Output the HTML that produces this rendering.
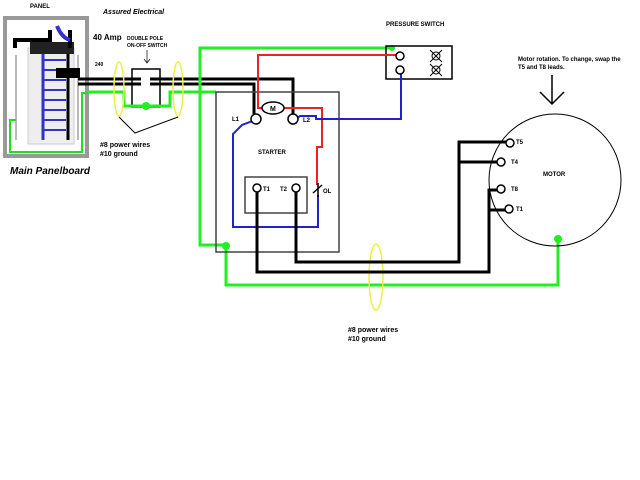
<!DOCTYPE html>
<html><head><style>body{margin:0;background:#fff}svg{display:block}text{font-family:"Liberation Sans",sans-serif;font-weight:bold}</style></head><body>
<svg width="640" height="480" viewBox="0 0 640 480">
<rect x="3" y="16" width="86" height="142" fill="#999"/>
<rect x="7" y="20" width="78" height="134" fill="#fff"/>
<rect x="28" y="48" width="46" height="96" fill="#eee" stroke="#ccc"/>
<g stroke="#bbb" stroke-width="2"><line x1="16" y1="55" x2="16" y2="140"/><line x1="78" y1="55" x2="78" y2="140"/></g>
<line x1="43" y1="52" x2="43" y2="140" stroke="#33c" stroke-width="3"/>
<g stroke="#33c" stroke-width="2"><line x1="43" y1="60" x2="66" y2="60"/><line x1="43" y1="70" x2="66" y2="70"/><line x1="43" y1="80" x2="66" y2="80"/><line x1="43" y1="90" x2="66" y2="90"/><line x1="43" y1="100" x2="66" y2="100"/><line x1="43" y1="110" x2="66" y2="110"/><line x1="43" y1="120" x2="66" y2="120"/><line x1="43" y1="130" x2="66" y2="130"/></g>
<line x1="68" y1="50" x2="68" y2="140" stroke="#000" stroke-width="3"/>
<rect x="30" y="42" width="44" height="12" fill="#222"/>
<path d="M15 48 V40 H50 V30 M70 48 V30" stroke="#000" stroke-width="4" fill="none"/>
<path d="M57 26 Q62 38 70 40" stroke="#33c" stroke-width="4" fill="none"/>
<rect x="56" y="68" width="24" height="10" fill="#000"/>
<path d="M10 140 V120 H16 M10 140 V152 H82 V93 H88" stroke="#2d2" stroke-width="2" fill="none"/>
<text x="30" y="8" font-size="6">PANEL</text>
<text x="103" y="14" font-size="7" font-style="italic" font-weight="normal">Assured Electrical</text>
<text x="10" y="174" font-size="10" font-style="italic" font-weight="normal">Main Panelboard</text>
<text x="93" y="40" font-size="8">40 Amp</text>
<text x="95" y="66" font-size="5">240</text>
<text x="127" y="40" font-size="5">DOUBLE POLE</text>
<text x="127" y="47" font-size="5">ON-OFF SWITCH</text>
<path d="M147 50 V62 M144 59 L147 63 L150 59" stroke="#000" fill="none" stroke-width="0.7"/>
<path d="M78 79 H293 V114" stroke="#000" stroke-width="3" fill="none"/>
<path d="M78 84 H254 V114" stroke="#000" stroke-width="3" fill="none"/>
<rect x="132" y="69" width="28" height="38" fill="none" stroke="#000" stroke-width="1.5"/>
<rect x="141" y="76" width="9" height="12" fill="#fff"/>
<path d="M88 92 H124 V106 H170 V92 H216" stroke="#2e2" stroke-width="3" fill="none"/>
<circle cx="146" cy="106" r="4" fill="#2e2"/>
<path d="M392 48 H200 V245 H226 V285 H558 V240" stroke="#2e2" stroke-width="3" fill="none"/>
<circle cx="226" cy="246" r="4" fill="#2e2"/><circle cx="392" cy="48" r="3" fill="#2e2"/><circle cx="558" cy="239" r="4" fill="#2e2"/>
<g fill="none" stroke="#ee4" stroke-width="1.5"><ellipse cx="119" cy="89" rx="5" ry="27"/><ellipse cx="178" cy="89" rx="5" ry="27"/><ellipse cx="376" cy="277" rx="7" ry="33"/></g>
<path d="M119 117 L135 133 L178 117" stroke="#000" fill="none"/>
<text x="100" y="147" font-size="7">#8 power wires</text><text x="100" y="156" font-size="7">#10 ground</text>
<text x="348" y="332" font-size="7">#8 power wires</text><text x="348" y="341" font-size="7">#10 ground</text>
<rect x="216" y="92" width="123" height="160" fill="none" stroke="#444" stroke-width="1.5"/>
<rect x="245" y="177" width="62" height="36" fill="none" stroke="#444" stroke-width="1.5"/>
<text x="258" y="154" font-size="6">STARTER</text>
<rect x="386" y="46" width="66" height="33" fill="none" stroke="#000" stroke-width="1.5"/>
<text x="386" y="26" font-size="6">PRESSURE SWITCH</text>
<path d="M398 55 H258 V108 H262 M284 108 H322 V147 H317 V185" stroke="#e22" stroke-width="2" fill="none"/>
<ellipse cx="273" cy="108" rx="11" ry="6" fill="#fff" stroke="#000" stroke-width="1.5"/>
<text x="270" y="111" font-size="7">M</text>
<path d="M401 73 V119 H316 V116 H300 L293 122 M255 120 L242 125 L233 134 V227 H318 V195" stroke="#22c" stroke-width="2" fill="none"/>
<g fill="#fff" stroke="#000" stroke-width="1.5"><circle cx="400" cy="56" r="4"/><circle cx="400" cy="70" r="4"/><circle cx="256" cy="119" r="5"/><circle cx="293" cy="119" r="5"/><circle cx="257" cy="188" r="4"/><circle cx="296" cy="188" r="4"/></g>
<g stroke="#000" stroke-width="1" fill="none"><circle cx="436" cy="56" r="4"/><circle cx="436" cy="70" r="4"/><path d="M430 50 L442 62 M442 50 L430 62 M430 64 L442 76 M442 64 L430 76"/></g>
<text x="232" y="121" font-size="6">L1</text><text x="303" y="122" font-size="6">L2</text>
<text x="263" y="191" font-size="6">T1</text><text x="280" y="191" font-size="6">T2</text>
<path d="M318 183 V197 M313 193 L322 185" stroke="#000" stroke-width="1.5"/>
<text x="323" y="193" font-size="6">OL</text>
<path d="M257 192 V272 H489 V190 H499 M489 210 H505" stroke="#000" stroke-width="3" fill="none"/>
<path d="M296 192 V262 H459 V142 H506 M459 162 H497" stroke="#000" stroke-width="3" fill="none"/>
<circle cx="555" cy="180" r="66" fill="none" stroke="#000" stroke-width="1"/>
<g fill="#fff" stroke="#000" stroke-width="1.5"><circle cx="510" cy="143" r="4"/><circle cx="501" cy="162" r="4"/><circle cx="501" cy="189" r="4"/><circle cx="509" cy="209" r="4"/></g>
<text x="516" y="144" font-size="6">T5</text><text x="511" y="164" font-size="6">T4</text><text x="511" y="191" font-size="6">T8</text><text x="516" y="211" font-size="6">T1</text>
<text x="543" y="176" font-size="6">MOTOR</text>
<text x="518" y="61" font-size="6">Motor rotation. To change, swap the</text>
<text x="518" y="69" font-size="6">T5 and T8 leads.</text>
<path d="M552 75 V104 M540 92 L552 104 L564 92" stroke="#000" stroke-width="1.5" fill="none"/>
</svg>
</body></html>
